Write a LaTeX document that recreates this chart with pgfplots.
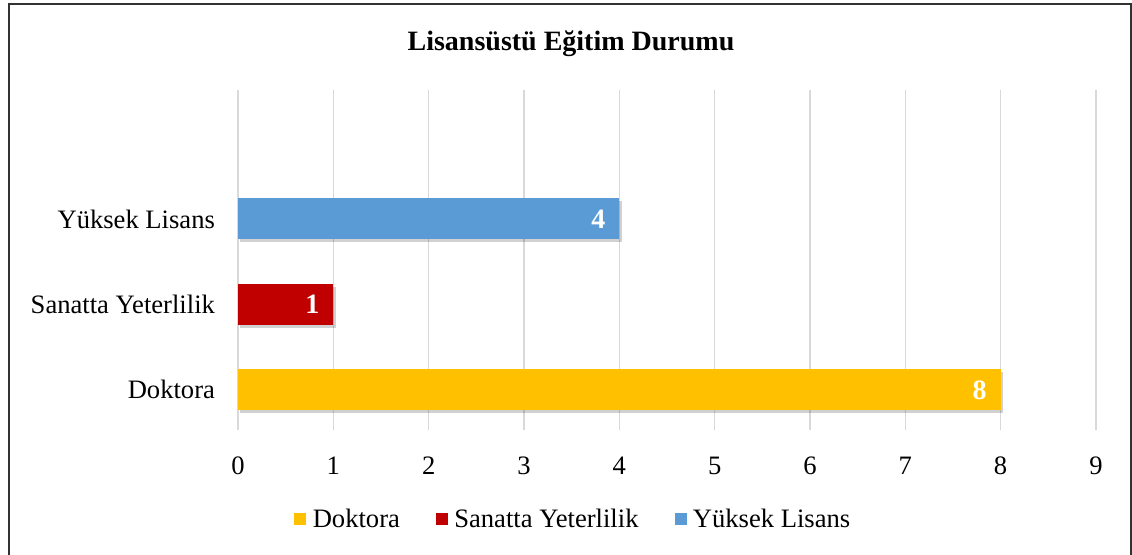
\documentclass[border=0pt]{standalone}
\usepackage{fontspec}
\setmainfont{Liberation Serif}
\usepackage{pgfplots}
\pgfplotsset{compat=1.18}
\definecolor{cgold}{RGB}{255,192,0}
\definecolor{cred}{RGB}{192,0,0}
\definecolor{cblue}{RGB}{91,155,213}
\definecolor{gridc}{RGB}{217,217,217}
\definecolor{framec}{RGB}{50,50,50}

\newcommand{\lbl}{\fontsize{13.3}{16}\selectfont}
\tikzset{barshadow/.style={preaction={fill=black, fill opacity=0.18,
    transform canvas={xshift=1.2pt, yshift=-1.5pt}}}}
\pgfplotsset{sq/.style={draw=none, legend image code/.code={
    \fill[draw=none, fill=#1] (0pt,-2.5pt) rectangle (6pt,3.5pt);
    \path[draw=none] (0pt,0pt) -- (7.2pt,0pt);}}}

\begin{document}
\begin{tikzpicture}
\path[use as bounding box] (0,0) rectangle (566pt,277.5pt);
\draw[line width=1pt, framec] (4.5pt,275.5pt) rectangle (565.5pt,-10pt);
\node[font=\fontsize{14}{17}\selectfont\bfseries] at (285.5pt,255.5pt) {Lisansüstü Eğitim Durumu};

\begin{axis}[
    at={(119pt,62.5pt)}, anchor=south west,
    scale only axis, width=429pt, height=170pt,
    xmin=0, xmax=9, ymin=-0.47, ymax=3.51,
    xtick={0,...,9},
    ytick={0,1,2},
    yticklabels={Doktora, Sanatta Yeterlilik, Yüksek Lisans},
    axis line style={draw=none},
    major tick length=0pt,
    xmajorgrids, grid style={draw=gridc, line width=0.75pt},
    tick label style={font=\lbl},
    /pgf/number format/assume math mode=true,
    xticklabel style={yshift=-10pt},
    yticklabel style={xshift=-8pt},
    xbar, bar width=20.5pt, bar shift=0pt,
    nodes near coords,
    nodes near coords style={anchor=east, xshift=-3.5pt, text=white,
        font=\fontsize{14}{17}\selectfont\bfseries},
    legend columns=3,
    legend style={at={(0.392,-0.265)}, anchor=center, draw=none, fill=none,
        font=\lbl,
        /tikz/every even column/.append style={column sep=16pt}},
    legend cell align=left,
]
\addplot[draw=none, fill=cgold, barshadow, forget plot] coordinates {(8,0)};
\addplot[draw=none, fill=cred, barshadow, forget plot] coordinates {(1,1)};
\addplot[draw=none, fill=cblue, barshadow, forget plot] coordinates {(4,2)};
\addlegendimage{sq=cgold}
\addlegendentry{Doktora}
\addlegendimage{sq=cred}
\addlegendentry{Sanatta Yeterlilik}
\addlegendimage{sq=cblue}
\addlegendentry{Yüksek Lisans}
\end{axis}
\end{tikzpicture}
\end{document}
